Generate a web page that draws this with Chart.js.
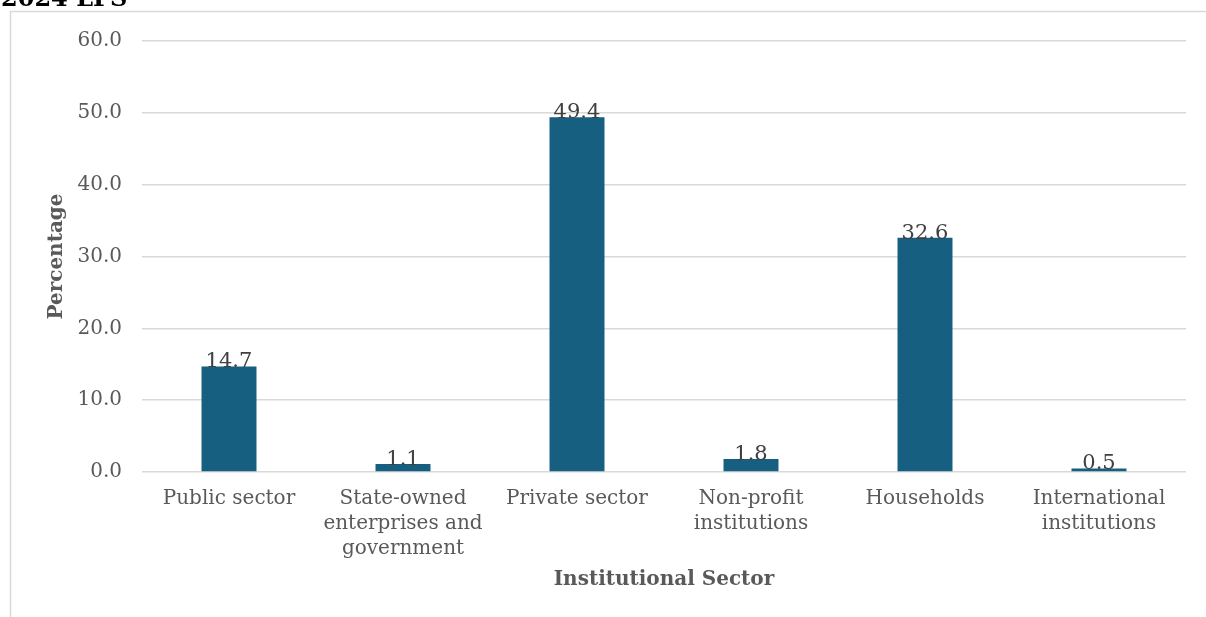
<!DOCTYPE html>
<html>
<head>
<meta charset="utf-8">
<script src="https://cdn.jsdelivr.net/npm/chart.js@4.4.1/dist/chart.umd.min.js"></script>
<style>
  html, body { margin: 0; padding: 0; background: #ffffff; }
  #wrap { width: 1206px; height: 617px; position: relative; }
</style>
</head>
<body>
<div id="wrap"><canvas id="c" width="1206" height="617"></canvas></div>
<script>
// Employment share by institutional sector (%)
const categories = [
  'Public sector',
  ['State-owned', 'enterprises and', 'government'],
  'Private sector',
  ['Non-profit', 'institutions'],
  'Households',
  ['International', 'institutions']
];
const shares = [14.7, 1.1, 49.4, 1.8, 32.6, 0.5];
const yTicks = [0, 10, 20, 30, 40, 50, 60];

const chartTitle = '2024 LFS';
const xTitle = 'Institutional Sector';
const yTitle = 'Percentage';

const SERIF = '"DejaVu Serif", "Liberation Serif", serif';
const BAR = '#175F80';
const GRID = '#d9d9d9';
const TICK = '#595959';

// Outer frame and the heading text above it
const framePlugin = {
  id: 'frame',
  beforeDraw(chart) {
    const ctx = chart.ctx;
    ctx.save();
    ctx.fillStyle = '#ffffff';
    ctx.fillRect(0, 0, chart.width, chart.height);
    ctx.strokeStyle = GRID;
    ctx.lineWidth = 1.5;
    ctx.strokeRect(10.5, 11.5, chart.width + 20, chart.height + 20);
    ctx.fillStyle = '#000000';
    ctx.font = 'bold 24px ' + SERIF;
    ctx.textAlign = 'left';
    ctx.textBaseline = 'alphabetic';
    ctx.fillText(chartTitle, 1, 6);
    ctx.restore();
  }
};

// Value labels sitting on top of each bar
const valueLabels = {
  id: 'valueLabels',
  afterDatasetsDraw(chart) {
    const ctx = chart.ctx;
    const meta = chart.getDatasetMeta(0);
    ctx.save();
    ctx.font = '21px ' + SERIF;
    ctx.fillStyle = '#404040';
    ctx.textAlign = 'center';
    ctx.textBaseline = 'alphabetic';
    meta.data.forEach((bar, i) => {
      ctx.fillText(shares[i].toFixed(1), bar.x, bar.y + 1);
    });
    ctx.restore();
  }
};

new Chart(document.getElementById('c'), {
  type: 'bar',
  data: {
    labels: categories,
    datasets: [{
      data: shares,
      backgroundColor: BAR,
      borderWidth: 0,
      categoryPercentage: 1.0,
      barPercentage: 0.316
    }]
  },
  options: {
    responsive: false,
    animation: false,
    devicePixelRatio: 1,
    layout: { padding: { top: 41, right: 20, bottom: 0, left: 0 } },
    plugins: {
      legend: { display: false },
      tooltip: { enabled: false }
    },
    scales: {
      x: {
        grid: { display: false },
        border: { display: false },
        ticks: {
          color: TICK,
          font: { family: SERIF, size: 20, lineHeight: 1.25 },
          padding: 6,
          maxRotation: 0,
          autoSkip: false
        },
        title: {
          display: true,
          text: xTitle,
          color: TICK,
          font: { family: SERIF, size: 20, weight: 'bold', lineHeight: 1.2 },
          padding: { top: 0, bottom: 25 }
        },
        afterFit(scale) { scale.height = 145; }
      },
      y: {
        min: 0,
        max: 60,
        afterBuildTicks(scale) { scale.ticks = yTicks.map(v => ({ value: v })); },
        grid: { color: GRID, lineWidth: 1.5, drawTicks: false },
        border: { display: false },
        ticks: {
          color: TICK,
          font: { family: SERIF, size: 20 },
          padding: 20,
          callback: v => Number(v).toFixed(1)
        },
        title: {
          display: true,
          text: yTitle,
          color: TICK,
          font: { family: SERIF, size: 20, weight: 'bold', lineHeight: 1.2 },
          padding: { top: 45, bottom: 0 }
        },
        afterFit(scale) { scale.width = 142; }
      }
    }
  },
  plugins: [framePlugin, valueLabels]
});
</script>
</body>
</html>
